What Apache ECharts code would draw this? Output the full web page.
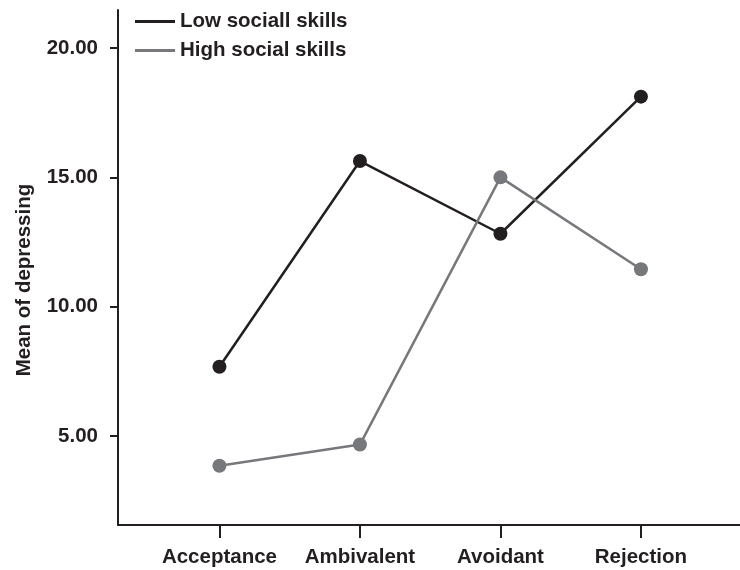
<!DOCTYPE html>
<html>
<head>
<meta charset="utf-8">
<script src="https://cdn.jsdelivr.net/npm/echarts@6/dist/echarts.min.js"></script>
<style>html,body{margin:0;padding:0;background:#fff}#c{width:740px;height:570px}</style>
</head>
<body>
<div id="c"></div>
<script>
const categories = ['Acceptance', 'Ambivalent', 'Avoidant', 'Rejection'];
const lowSocial = [7.68, 15.63, 12.82, 18.12];
const highSocial = [3.85, 4.67, 15.0, 11.45];
const yTicks = [5, 10, 15, 20];
const seriesNames = ['Low sociall skills', 'High social skills'];

const DARK = '#231f20';
const GRAY = '#77787b';
const FONT = 'Liberation Sans, Arial, sans-serif';
const FS = 20.5;

const chart = echarts.init(document.getElementById('c'), null, {renderer: 'canvas'});
const toPts = arr => arr.map((v, i) => [i, v]);

chart.setOption({
  animation: false,
  backgroundColor: '#fff',
  grid: {left: 118, right: 0, top: 10, bottom: 45, containLabel: false},
  legend: {
    orient: 'vertical', left: 135, top: 11, padding: 0, itemWidth: 40, itemHeight: 3, itemGap: 8,
    icon: 'rect',
    textStyle: {fontFamily: FONT, fontWeight: 'bold', fontSize: FS, color: DARK},
    data: seriesNames
  },
  xAxis: {
    type: 'value', min: -0.722, max: 3.705,
    splitLine: {show: false},
    axisLine: {show: true, onZero: false, lineStyle: {color: DARK, width: 2}},
    axisTick: {show: true, length: 13, customValues: [0, 1, 2, 3], lineStyle: {color: DARK, width: 2}},
    axisLabel: {
      customValues: [0, 1, 2, 3], margin: 22,
      formatter: v => categories[Math.round(v)],
      fontFamily: FONT, fontWeight: 'bold', fontSize: FS, color: DARK
    }
  },
  yAxis: {
    type: 'value', min: 1.56, max: 21.47,
    splitLine: {show: false},
    axisLine: {show: true, onZero: false, lineStyle: {color: DARK, width: 2}},
    axisTick: {show: true, length: 8, customValues: yTicks, lineStyle: {color: DARK, width: 2}},
    axisLabel: {
      customValues: yTicks, margin: 20,
      formatter: v => v.toFixed(2),
      fontFamily: FONT, fontWeight: 'bold', fontSize: FS, color: DARK
    }
  },
  graphic: [{
    type: 'text',
    x: 24, y: 280, rotation: Math.PI / 2,
    style: {text: 'Mean of depressing', fontFamily: FONT, fontWeight: 'bold', fontSize: FS, fill: DARK, align: 'center', verticalAlign: 'middle'}
  }],
  series: [
    {
      name: seriesNames[0], type: 'line', data: toPts(lowSocial),
      symbol: 'circle', symbolSize: 14,
      lineStyle: {color: DARK, width: 2.5}, itemStyle: {color: DARK}, color: DARK
    },
    {
      name: seriesNames[1], type: 'line', data: toPts(highSocial),
      symbol: 'circle', symbolSize: 14,
      lineStyle: {color: GRAY, width: 2.5}, itemStyle: {color: GRAY}, color: GRAY
    }
  ]
});
</script>
</body>
</html>
